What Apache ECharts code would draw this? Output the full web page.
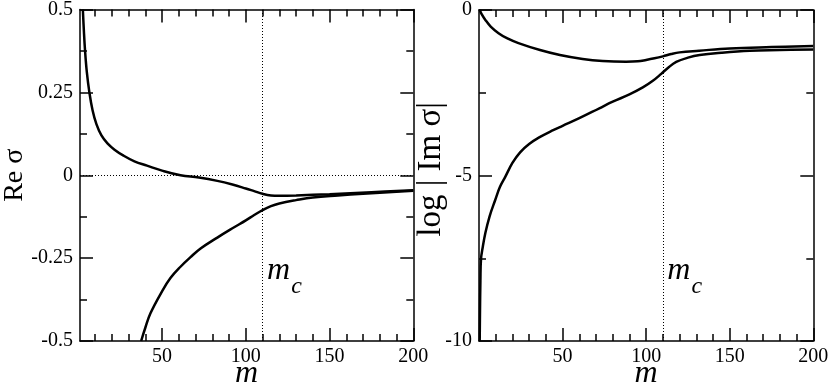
<!DOCTYPE html>
<html>
<head>
<meta charset="utf-8">
<script src="https://cdn.jsdelivr.net/npm/echarts@6/dist/echarts.min.js"></script>
<style>
  html, body { margin: 0; padding: 0; background: #fff; }
  #chart { width: 830px; height: 386px; }
</style>
</head>
<body>
<div id="chart"></div>
<script>
  // tick positions on m axis
  const majorTicks = [50, 100, 150, 200];
  const minorTicks = [10, 20, 30, 40, 60, 70, 80, 90, 110, 120, 130, 140, 160, 170, 180, 190];
  const mCritical = 110;

  // left panel: Re sigma
  const mReUpper = [2.7, 3.3, 4.0, 5.1, 6.6, 8.5, 10.8, 13.8, 17.4, 21.6, 27, 33.5, 41, 50, 61, 72, 83, 92, 100, 105, 110, 115, 120, 130, 150, 175, 200];
  const reUpper = [0.5, 0.437, 0.377, 0.31, 0.25, 0.196, 0.154, 0.12, 0.096, 0.077, 0.059, 0.042, 0.029, 0.014, 0.0, -0.007, -0.017, -0.028, -0.040, -0.048, -0.056, -0.061, -0.062, -0.061, -0.057, -0.051, -0.045];
  const mReLower = [37.5, 40, 43, 50, 55, 61, 67, 73, 83, 92, 100, 105, 110, 115, 120, 130, 140, 155, 170, 185, 200];
  const reLower = [-0.5, -0.46, -0.417, -0.35, -0.31, -0.276, -0.247, -0.221, -0.188, -0.16, -0.136, -0.120, -0.105, -0.093, -0.085, -0.075, -0.067, -0.061, -0.056, -0.051, -0.047];

  // right panel: log|Im sigma|
  const mImUpper = [0.5, 1.5, 3.8, 7, 11.7, 17, 23.6, 36.5, 48.4, 62, 74, 88, 95, 100, 105, 110, 115, 120, 131.7, 150, 175, 200];
  const imUpper = [0, -0.12, -0.30, -0.50, -0.70, -0.86, -1.0, -1.21, -1.36, -1.48, -1.54, -1.56, -1.55, -1.51, -1.46, -1.40, -1.33, -1.28, -1.23, -1.16, -1.12, -1.09];
  const mImLower = [0.42, 0.6, 0.84, 1.2, 2.15, 3.8, 6.3, 9.7, 12.5, 15.7, 20, 24.6, 30, 36, 44.4, 50, 60, 72, 80, 90, 98, 104, 109, 113, 118, 125, 132, 145, 162, 180, 200];
  const imLower = [-10, -9.09, -8.19, -7.52, -7.19, -6.74, -6.24, -5.74, -5.35, -5.04, -4.62, -4.30, -4.05, -3.85, -3.63, -3.50, -3.27, -2.97, -2.77, -2.55, -2.34, -2.14, -1.93, -1.75, -1.57, -1.44, -1.36, -1.29, -1.23, -1.21, -1.19];

  const serif = 'Liberation Serif';
  const black = '#000';
  const zip = (xs, ys) => xs.map((x, i) => [x, ys[i]]);

  // one x axis layer: major or minor ticks, bottom or top
  function xLayer(grid, min, pos, major) {
    const ax = {
      gridIndex: grid, type: 'value', min: min, max: 200, position: pos,
      axisLine: { show: major, onZero: false, lineStyle: { color: black, width: 1.5 } },
      axisTick: { inside: true, length: major ? 13 : 7, customValues: major ? majorTicks : minorTicks,
                  lineStyle: { color: black, width: 1.5 } },
      axisLabel: { show: false },
      splitLine: { show: false }
    };
    if (major && pos === 'bottom') {
      ax.axisLabel = { show: true, customValues: majorTicks, margin: 6, color: black, fontFamily: serif, fontSize: 20 };
      ax.name = 'm';
      ax.nameLocation = 'middle';
      ax.nameGap = 17;
      ax.nameMoveOverlap = false;
      ax.nameTextStyle = { color: black, fontFamily: serif, fontStyle: 'italic', fontSize: 32 };
    }
    return ax;
  }

  function yLayer(grid, min, max, interval, pos, name, gap, size, pad) {
    const ax = {
      gridIndex: grid, type: 'value', min: min, max: max, interval: interval, position: pos,
      axisLine: { show: true, onZero: false, lineStyle: { color: black, width: 1.5 } },
      axisTick: { inside: true, length: 13, lineStyle: { color: black, width: 1.5 } },
      minorTick: { show: true, splitNumber: 2, length: 7, lineStyle: { color: black, width: 1.5 } },
      axisLabel: { show: false },
      splitLine: { show: false },
      minorSplitLine: { show: false }
    };
    if (pos === 'left') {
      ax.axisLabel = { show: true, margin: 7, color: black, fontFamily: serif, fontSize: 20 };
      ax.name = name;
      ax.nameLocation = 'middle';
      ax.nameGap = gap;
      ax.nameMoveOverlap = false;
      ax.nameTextStyle = { color: black, fontFamily: serif, fontSize: size, padding: pad };
    }
    return ax;
  }

  const curveStyle = { color: black, width: 2.5 };
  const dotted = { color: black, width: 1, type: [1, 2] };

  function mcLabel(v) {
    return {
      symbol: 'circle', symbolSize: 0, silent: true,
      data: [
        { coord: [mCritical, v], label: { show: true, formatter: 'm', offset: [16, 0],
          color: black, fontFamily: serif, fontStyle: 'italic', fontSize: 32 } },
        { coord: [mCritical, v], label: { show: true, formatter: 'c', offset: [34, 16],
          color: black, fontFamily: serif, fontStyle: 'italic', fontSize: 24 } }
      ]
    };
  }

  const option = {
    animation: false,
    backgroundColor: '#fff',
    grid: [
      { left: 80, top: 9.5, width: 333.3, height: 331.5, outerBoundsMode: 'none', containLabel: false },
      { left: 479, top: 10, width: 334.3, height: 331, outerBoundsMode: 'none', containLabel: false }
    ],
    xAxis: [
      xLayer(0, 1, 'bottom', true), xLayer(0, 1, 'bottom', false),
      xLayer(0, 1, 'top', true), xLayer(0, 1, 'top', false),
      xLayer(1, 0, 'bottom', true), xLayer(1, 0, 'bottom', false),
      xLayer(1, 0, 'top', true), xLayer(1, 0, 'top', false)
    ],
    yAxis: [
      yLayer(0, -0.5, 0.5, 0.25, 'left', 'Re σ', 51, 28, 0),
      yLayer(0, -0.5, 0.5, 0.25, 'right'),
      yLayer(1, -10, 0, 5, 'left', 'log | Im σ|', 31, 33, [0, 0, 0, 12]),
      yLayer(1, -10, 0, 5, 'right')
    ],
    series: [
      {
        type: 'line', xAxisIndex: 0, yAxisIndex: 0, data: zip(mReUpper, reUpper),
        showSymbol: false, smooth: 0.4, lineStyle: curveStyle, z: 3,
        markLine: {
          silent: true, symbol: 'none', label: { show: false }, lineStyle: dotted,
          data: [{ xAxis: mCritical }, { yAxis: 0 }]
        },
        markPoint: mcLabel(-0.289)
      },
      {
        type: 'line', xAxisIndex: 0, yAxisIndex: 0, data: zip(mReLower, reLower),
        showSymbol: false, smooth: 0.4, lineStyle: curveStyle, z: 3
      },
      {
        type: 'line', xAxisIndex: 4, yAxisIndex: 2, data: zip(mImUpper, imUpper),
        showSymbol: false, smooth: 0.4, lineStyle: curveStyle, z: 3,
        markLine: {
          silent: true, symbol: 'none', label: { show: false }, lineStyle: dotted,
          data: [{ xAxis: mCritical }]
        },
        markPoint: mcLabel(-7.885)
      },
      {
        type: 'line', xAxisIndex: 4, yAxisIndex: 2, data: zip(mImLower, imLower),
        showSymbol: false, smooth: 0.4, lineStyle: curveStyle, z: 3
      }
    ]
  };

  const myChart = echarts.init(document.getElementById('chart'));
  myChart.setOption(option);
</script>
</body>
</html>
